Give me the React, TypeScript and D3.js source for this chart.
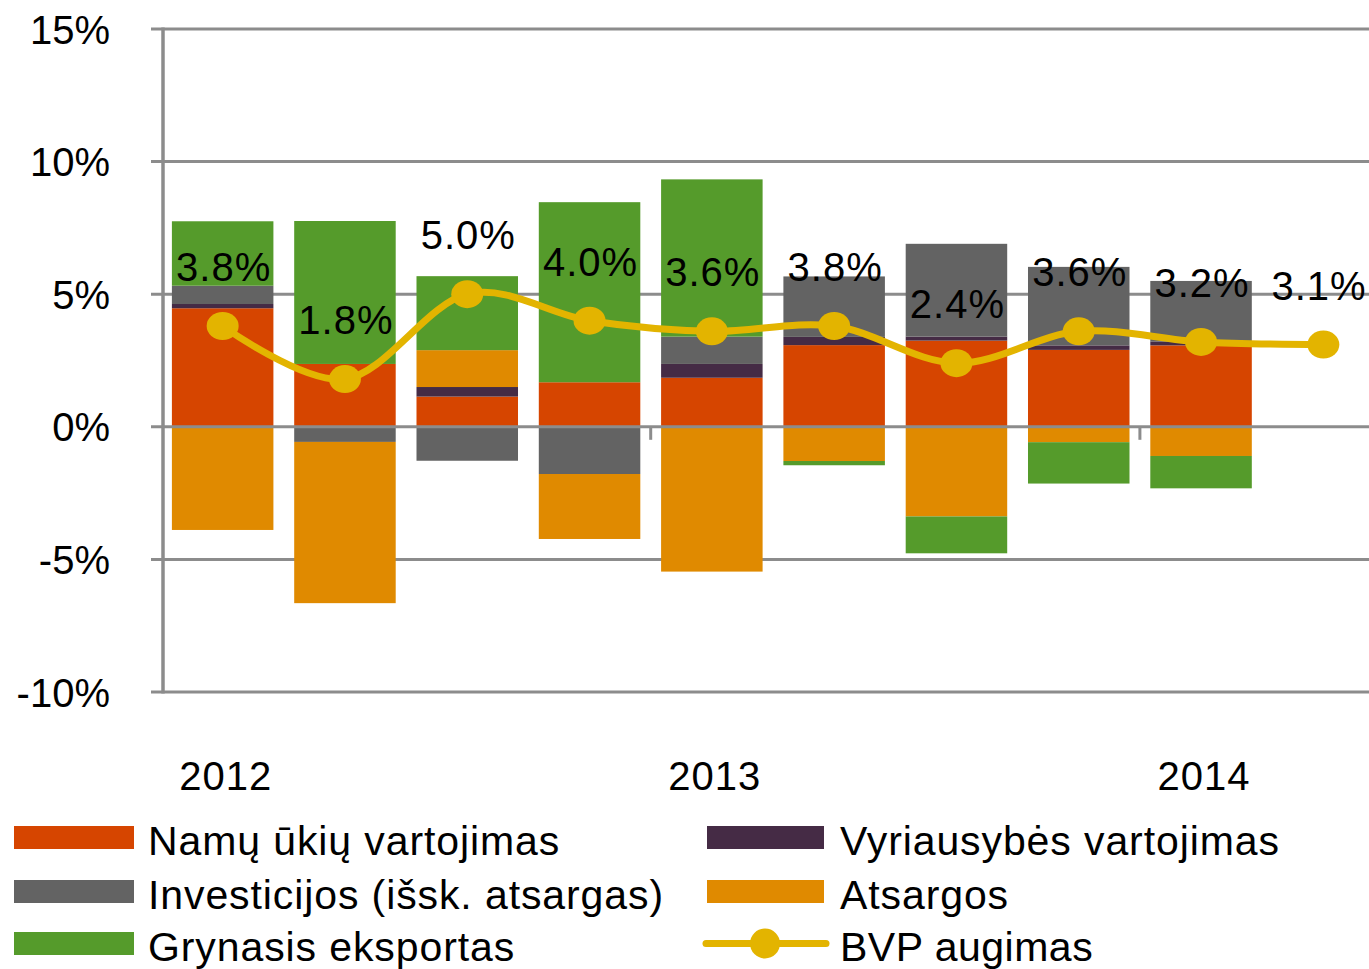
import React from "react";
import * as d3 from "d3";

const categories = ["2012 Q1", "2012 Q2", "2012 Q3", "2012 Q4", "2013 Q1", "2013 Q2", "2013 Q3", "2013 Q4", "2014 Q1", "2014 Q2"];
const tickLabels = ["2012", "", "", "", "2013", "", "", "", "2014", ""];
const household = [4.47, 2.37, 1.14, 1.68, 1.85, 3.08, 3.25, 2.9, 3.07, 0];
const government = [0.16, 0, 0.36, 0, 0.52, 0.31, 0.15, 0.17, 0.15, 0];
const investment = [0.69, -0.57, -1.28, -1.78, 1.03, 2.28, 3.5, 2.96, 2.28, 0];
const inventories = [-3.89, -6.08, 1.39, -2.45, -5.46, -1.29, -3.38, -0.58, -1.1, 0];
const netExports = [2.43, 5.39, 2.79, 6.79, 5.93, -0.16, -1.39, -1.56, -1.22, 0];
const gdp = [3.8, 1.8, 5.0, 4.0, 3.6, 3.8, 2.4, 3.6, 3.2, 3.1];
const yTicks = [-10, -5, 0, 5, 10, 15];

const seriesNames = ["Namų ūkių vartojimas", "Vyriausybės vartojimas", "Investicijos (išsk. atsargas)", "Atsargos", "Grynasis eksportas"];
const seriesKeys = ["household", "government", "investment", "inventories", "netExports"];
const seriesColors = ["#D64500", "#452B45", "#636363", "#E08A00", "#559B2B"];
const lineName = "BVP augimas";
const lineColor = "#E3B400";

const FONT = "'Liberation Sans', Arial, sans-serif";

export default function App() {
  const rows = categories.map((c, i) => ({
    cat: c,
    household: household[i],
    government: government[i],
    investment: investment[i],
    inventories: inventories[i],
    netExports: netExports[i],
  }));
  const stack = d3.stack<any>().keys(seriesKeys).offset(d3.stackOffsetDiverging);
  const stacked = stack(rows);

  const y = d3.scaleLinear().domain([-10, 15]).range([692, 29]);
  const x = d3
    .scaleBand<string>()
    .domain(categories)
    .range([161.5, 1384.5])
    .paddingInner(0.17)
    .paddingOuter(0.085);
  const bw = x.bandwidth();
  const cx = (c: string) => (x(c) as number) + bw / 2;
  const gap = x.paddingInner() * x.step();

  const line = d3
    .line<number>()
    .x((_, i) => cx(categories[i]))
    .y((d) => y(d))
    .curve(d3.curveCardinal.tension(0));

  const gridColor = "#8C8C8C";
  const legendLeft = [
    { name: seriesNames[0], color: seriesColors[0] },
    { name: seriesNames[2], color: seriesColors[2] },
    { name: seriesNames[4], color: seriesColors[4] },
  ];
  const legendRight = [
    { name: seriesNames[1], color: seriesColors[1] },
    { name: seriesNames[3], color: seriesColors[3] },
  ];
  const rowY = [826, 880, 932];

  return (
    <svg
      width={1369}
      height={969}
      style={{ position: "absolute", left: 0, top: 0, background: "#fff" }}
      fontFamily={FONT}
    >
      {/* gridlines */}
      {yTicks
        .filter((t) => t !== 0)
        .map((t) => (
          <line key={t} x1={151} x2={1369} y1={y(t)} y2={y(t)} stroke={gridColor} strokeWidth={3} />
        ))}
      {/* bars */}
      {stacked.map((s, si) => (
        <g key={s.key} fill={seriesColors[si]}>
          {s.map((d, i) =>
            d[1] - d[0] === 0 ? null : (
              <rect
                key={i}
                x={x(categories[i])}
                width={bw}
                y={y(Math.max(d[0], d[1]))}
                height={Math.abs(y(d[0]) - y(d[1]))}
              />
            )
          )}
        </g>
      ))}
      {/* zero axis */}
      <line x1={151} x2={1369} y1={y(0)} y2={y(0)} stroke={gridColor} strokeWidth={3} />
      {tickLabels.map((t, i) =>
        i > 0 && t !== "" ? (
          <line
            key={i}
            x1={(x(categories[i]) as number) - gap / 2}
            x2={(x(categories[i]) as number) - gap / 2}
            y1={y(0)}
            y2={y(0) + 13}
            stroke={gridColor}
            strokeWidth={3}
          />
        ) : null
      )}
      {/* y axis */}
      <line x1={163} x2={163} y1={y(15) - 1.5} y2={y(-10) + 1.5} stroke={gridColor} strokeWidth={3.5} />
      {/* GDP line */}
      <path d={line(gdp) || ""} fill="none" stroke={lineColor} strokeWidth={7} />
      {gdp.map((v, i) => (
        <ellipse key={i} cx={cx(categories[i])} cy={y(v)} rx={16} ry={14} fill={lineColor} />
      ))}
      {/* data labels */}
      {gdp.map((v, i) => (
        <text
          key={i}
          x={Math.min(cx(categories[i]) + 1, 1319)}
          y={y(v) - 45}
          textAnchor="middle"
          fontSize={40}
          letterSpacing={1}
          fill="#000"
        >
          {v.toFixed(1) + "%"}
        </text>
      ))}
      {/* y tick labels */}
      {yTicks.map((t) => (
        <text key={t} x={110} y={y(t) + 14.5} textAnchor="end" fontSize={40} fill="#000">
          {t + "%"}
        </text>
      ))}
      {/* category labels */}
      {tickLabels.map((t, i) =>
        t ? (
          <text key={i} x={cx(categories[i]) + 3} y={790} textAnchor="middle" fontSize={40} letterSpacing={1} fill="#000">
            {t}
          </text>
        ) : null
      )}
      {/* legend */}
      {legendLeft.map((l, i) => (
        <g key={l.name}>
          <rect x={14} y={rowY[i]} width={120} height={23} fill={l.color} />
          <text x={148} y={rowY[i] + 28.5} fontSize={41} letterSpacing={0.9} fill="#000">
            {l.name}
          </text>
        </g>
      ))}
      {legendRight.map((l, i) => (
        <g key={l.name}>
          <rect x={707} y={rowY[i]} width={117} height={23} fill={l.color} />
          <text x={840} y={rowY[i] + 28.5} fontSize={41} letterSpacing={0.9} fill="#000">
            {l.name}
          </text>
        </g>
      ))}
      <line x1={706} x2={826} y1={rowY[2] + 11.5} y2={rowY[2] + 11.5} stroke={lineColor} strokeWidth={7} strokeLinecap="round" />
      <ellipse cx={765} cy={rowY[2] + 11.5} rx={15} ry={15} fill={lineColor} />
      <text x={840} y={rowY[2] + 28.5} fontSize={41} letterSpacing={0.5} fill="#000">
        {lineName}
      </text>
    </svg>
  );
}
